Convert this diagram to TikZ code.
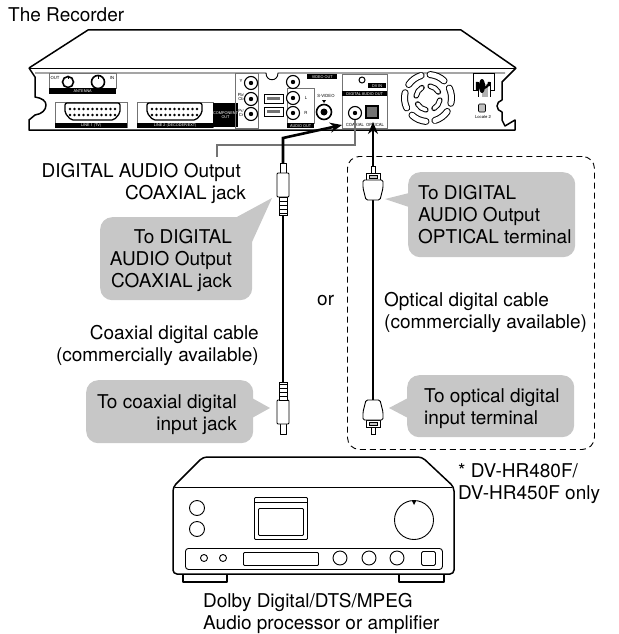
\documentclass[tikz,border=0pt]{standalone}
\usepackage{fontspec}
\setmainfont{TeX Gyre Heros}
\usetikzlibrary{arrows.meta,calc,positioning}
\definecolor{bubblegray}{gray}{0.78}
\definecolor{wiregray}{gray}{0.45}
\tikzstyle{txt}=[font=\fontsize{19}{22}\selectfont,inner sep=0pt]
\tikzstyle{bubble}=[fill=bubblegray,rounded corners=12pt,inner sep=0pt]
\tikzstyle{cable}=[line width=2.6pt]
\tikzstyle{cable arrow}=[cable,-{Stealth[length=12pt,width=10pt]}]
\tikzstyle{outline}=[line width=1.5pt,line join=round]
\tikzstyle{thin line}=[line width=0.9pt]
\tikzstyle{jack}=[circle,draw,fill=white,line width=1.1pt,minimum size=13pt,inner sep=0pt]
\tikzstyle{panelbox}=[draw=wiregray,line width=0.5pt,inner sep=0pt]
\tikzstyle{bar}=[fill=black,text=white,inner sep=0pt,font=\fontsize{3.8}{4}\selectfont]
\tikzstyle{tag}=[inner sep=0pt,font=\fontsize{4.2}{4.5}\selectfont]

\begin{document}
\begin{tikzpicture}[x=1pt,y=-1pt]
  \useasboundingbox (0,0) rectangle (618,634);

  \node[txt,anchor=base west] (title) at (8,22) {The Recorder};

  % recorder
  \draw[outline] (29,68) -- (88,30) -- (461,30) -- (516,68);
  \draw[thin line] (29,68) -- (516,68);
  \draw[outline] (29,68) -- (35,77) -- (35,97) .. controls (42,98) and (46,101) .. (46,105)
     .. controls (46,110) and (42,114) .. (35,115) -- (29,120) -- (29,130) -- (515,130) -- (515,120)
     -- (505,126) -- (502,120) -- (502,112) .. controls (499,111) and (497,109) .. (497,106)
     .. controls (497,103) and (499,101) .. (502,100) -- (502,82) -- (516,68);
  \draw[thin line] (35,73) -- (266,73) .. controls (266,82) and (278,82) .. (278,73) -- (505,73);

  \node[panelbox,minimum width=67,minimum height=15,anchor=north west] (antbox) at (49,73) {};
  \node[bar,minimum width=67,minimum height=6,anchor=north west] (antbar) at (49,88) {ANTENNA};
  \node[tag] (outtag) at (55,78) {OUT};
  \node[tag] (intag) at (112,78) {IN};
  \node[jack,minimum size=11pt,line width=1.6pt] (antout) at (68,82) {};
  \node[jack,line width=1.6pt] (antin) at (98,82) {};
  \draw[thin line] (antout) -- +(0,-3);
  \draw[thin line] (antin) -- +(0,-3);

  \node[panelbox,minimum width=72,minimum height=25,anchor=north west] (line1box) at (55,102) {};
  \node[panelbox,minimum width=76,minimum height=25,anchor=north west] (line2box) at (137,102) {};
  \node[bar,minimum width=72,minimum height=5,anchor=north west] (line1bar) at (55,123) {LINE 1 (TV)};
  \node[bar,minimum width=76,minimum height=5,anchor=north west] (line2bar) at (137,123) {LINE 2 (DECODER/EXT)};
  \foreach \sx in {65,147} {
    \fill[white] (\sx,103) rectangle +(55,17);
    \draw[line width=1.3pt,rounded corners=2pt] (\sx,103) -- ++(55,0) -- ++(0,10) -- ++(-6,7) -- ++(-43,0) -- ++(-6,-7) -- cycle;
    \foreach \i in {0,...,10} {
      \fill (\sx+5+4.5*\i,109) circle (1.3);
      \fill (\sx+5+4.5*\i,115) circle (1.3);
    }
  }
  \node[bar,minimum width=22,minimum height=24,align=center,anchor=north west] (compbar) at (213,103) {COMPONENT\\OUT};

  \node[panelbox,minimum width=23,minimum height=55,anchor=north west] (compbox) at (235,73) {};
  \foreach \n/\y in {jy/83,jb/99,jr/114} {
    \node[jack] (\n) at (251,\y) {};
    \fill (\n) circle (2.2);
  }
  \node[tag] (ytag) at (241,81) {Y};
  \node[tag,align=center] (pbtag) at (241,97) {Pb/\\Cb};
  \node[tag,align=center] (prtag) at (241,113) {Pr/\\Cr};

  \node[draw,line width=0.8pt,minimum width=19,minimum height=9,anchor=north west,inner sep=0pt] (sw1) at (264,94) {};
  \node[draw,line width=0.8pt,minimum width=19,minimum height=9,anchor=north west,inner sep=0pt] (sw2) at (264,107) {};
  \fill[wiregray] (267,97) rectangle (280,100);
  \fill[wiregray] (267,110) rectangle (280,113);

  \node[panelbox,line width=0.8pt,minimum width=27,minimum height=35,anchor=north west] (audiobox) at (287,88) {};
  \node[bar,minimum width=30,minimum height=5,anchor=north west] (videobar) at (307,74) {VIDEO OUT};
  \node[bar,minimum width=27,minimum height=5,anchor=north west] (audiobar) at (287,123) {AUDIO OUT};
  \foreach \n/\y in {jv/82,jl/98,ja/113} {
    \node[jack] (\n) at (293,\y) {};
    \fill (\n) circle (2.2);
  }
  \node[tag] (ltag) at (306,98) {L};
  \node[tag] (rtag) at (306,113) {R};
  \node[tag] (svtag) at (326,96) {S-VIDEO};
  \fill (322,100) -- (326,100) -- (324,103) -- cycle;
  \node[jack,minimum size=15pt,line width=1.6pt] (jsv) at (324,112) {};
  \fill (jsv) circle (3.5);

  \node[panelbox,minimum width=45,minimum height=54,anchor=north west] (digbox) at (342,74) {};
  \node[jack,minimum size=6pt,line width=1pt] (jdv) at (362,80) {};
  \node[bar,minimum width=18,minimum height=5,anchor=north west] (dvbar) at (368,83) {DV IN};
  \node[bar,minimum width=45,minimum height=5,anchor=north west] (digbar) at (342,91) {DIGITAL AUDIO OUT};
  \node[jack] (coaxjack) at (355,113) {};
  \fill (coaxjack) circle (2.2);
  \node[draw,fill=wiregray,line width=1.6pt,minimum size=12pt,inner sep=0pt] (optjack) at (372,112) {};
  \node[tag] (coaxtag) at (355,124.5) {COAXIAL};
  \node[tag] (opttag) at (375,124.5) {OPTICAL};

  % fan
  \foreach \a in {-25,35,95,155,215,275} {
    \draw[line width=7pt,line cap=round] ([shift={(\a:23.5)}]428,98) arc (\a:\a+38:23.5);
    \draw[line width=5pt,line cap=round,white] ([shift={(\a:23.5)}]428,98) arc (\a:\a+38:23.5);
  }
  \foreach \a in {10,100,190,280} {
    \draw[line width=5.5pt,line cap=round] ([shift={(\a:12)}]428,98) arc (\a:\a+50:12);
    \draw[line width=3.5pt,line cap=round,white] ([shift={(\a:12)}]428,98) arc (\a:\a+50:12);
  }

  % power cord
  \draw[thin line] (478,90) -- (473,90) -- (473,73) -- (494,73) -- (494,90) -- (490,90);
  \draw[line width=0.6pt] (478,82) -- (478,97) (490,82) -- (490,97);
  \fill[gray!60] (482,84) rectangle (488,97);
  \draw[line width=2.2pt] (477,90) -- (477,82) arc (180:0:6) -- (489,86);
  \fill (482,86) ellipse (3 and 7);
  \node[draw,fill=gray!50,rounded corners=1pt,line width=0.6pt,minimum width=7,minimum height=8,inner sep=0pt] (mark) at (482,108) {};
  \node[tag] (localetag) at (483,117) {Locale 2};

  % coaxial side
  \coordinate (coaxtop) at (283,215);
  \coordinate (coaxbend) at (283,138);
  \coordinate (coaxplug) at (283,165);
  \coordinate (coaxbottom) at (283,382);
  \coordinate (leaderend) at (217,157);
  \coordinate (leaderbend) at (217,145);
  \coordinate (leadercorner) at (355,145);

  \draw[wiregray,line width=1.1pt] (leaderend) -- (leaderbend) -- (leadercorner) -- (coaxjack);
  \draw[cable arrow] (coaxplug) -- (coaxbend) -- ($(coaxjack)+(-13,12)$);
  \draw[cable] (coaxtop) -- (coaxbottom);

  \foreach \oy/\sy in {197/1,400/-1} {
    \begin{scope}[shift={(283,\oy)},yscale=\sy]
      \draw[thin line,fill=white,line join=round] (-3,-24) -- (-3,-34) -- (3,-34) -- (3,-24);
      \draw[thin line,fill=white,rounded corners=1pt] (-6,0) rectangle (6,-24);
      \draw[thin line,fill=white] (-4,0) rectangle (4,18);
      \foreach \r in {4,8,12,16}
        \draw[line width=1pt] (-4,\r) -- (4,\r);
    \end{scope}
  }

  \node[bubble,minimum width=152,minimum height=83,anchor=north west] (coaxbub) at (100,217) {};
  \fill[bubblegray] (235,218) -- (272,198) -- (252,242) -- cycle;
  \node[bubble,minimum width=167,minimum height=63,anchor=north west] (coaxinbub) at (86,380) {};
  \fill[bubblegray] (252,398) -- (270,408) -- (252,418) -- cycle;

  % optical side
  \node[draw,dashed,dash pattern=on 6pt off 4pt,line width=0.9pt,rounded corners=12pt,minimum width=247,minimum height=293,inner sep=0pt,anchor=north west] (optbox) at (347,156) {};
  \coordinate (opttop) at (373,200);
  \coordinate (optbottom) at (373,400);
  \coordinate (optarrow) at (373,166);

  \draw[cable arrow] (optarrow) -- (373,122);
  \draw[cable] (opttop) -- (optbottom);

  \foreach \oy/\sy in {200/1,400/-1} {
    \begin{scope}[shift={(373,\oy)},yscale=\sy]
      \draw[thin line,fill=white] (-2,-27) rectangle (2,-34);
      \draw[thin line,fill=white] (-7,-20) rectangle (7,-27);
      \draw[line width=0.7pt,fill=bubblegray] (-4,-22) rectangle (4,-25);
      \draw[thin line,fill=white,rounded corners=1.5pt] (-10,-20) -- (10,-20) -- (10,-12) -- (7,0) -- (-7,0) -- (-10,-12) -- cycle;
    \end{scope}
  }

  \node[bubble,minimum width=167,minimum height=85,anchor=north west] (optbub) at (408,172) {};
  \fill[bubblegray] (409,193) -- (385,199) -- (409,207) -- cycle;
  \node[bubble,minimum width=167,minimum height=62,anchor=north west] (optinbub) at (407,375) {};
  \fill[bubblegray] (408,398) -- (389,408) -- (408,418) -- cycle;

  % amplifier
  \draw[outline,fill=white] (183,570) -- (183,582) -- (227,582) -- (227,570);
  \draw[outline,fill=white] (399,570) -- (399,582) -- (444,582) -- (444,570);
  \draw[outline,fill=white,rounded corners=4pt] (173,487) -- (203,457) -- (422,457) -- (454,487) -- (454,574) -- (173,574) -- cycle;
  \draw[thin line] (175,487) -- (452,487);
  \node[circle,draw,thin line,minimum size=15pt,inner sep=0pt] (knob1) at (197,508) {};
  \node[circle,draw,thin line,minimum size=15pt,inner sep=0pt] (knob2) at (197,529) {};
  \node[draw,thin line,rounded corners=1pt,minimum width=53,minimum height=42,inner sep=0pt,anchor=north west] (screen) at (254,497) {};
  \draw[thin line] (254,502) -- (307,502);
  \node[draw,thin line,rounded corners=1pt,minimum width=45,minimum height=27,inner sep=0pt,anchor=north west] (screenin) at (258,508) {};
  \node[circle,draw,thin line,minimum size=39pt,inner sep=0pt] (dial) at (414,520) {};
  \fill (412,501) -- (416,501) -- (414,505) -- cycle;
  \node[draw,thin line,rounded corners=3pt,minimum width=257,minimum height=21,inner sep=0pt,anchor=north west] (strip) at (185,548) {};
  \node[circle,draw,thin line,minimum size=7pt,inner sep=0pt] (sm1) at (204,558) {};
  \node[circle,draw,thin line,minimum size=7pt,inner sep=0pt] (sm2) at (223,558) {};
  \node[draw,thin line,rounded corners=1pt,minimum width=75,minimum height=13,inner sep=0pt,anchor=north west] (slot) at (243,552) {};
  \foreach \n/\x in {b1/340,b2/369,b3/397}
    \node[circle,draw,thin line,minimum size=14pt,inner sep=0pt] (\n) at (\x,558) {};
  \node[draw,thin line,rounded corners=1.5pt,minimum size=14pt,inner sep=0pt] (sqbtn) at (428.5,558.5) {};

  % labels
  \node[txt,align=right,anchor=base east] (diglabel) at (246,199) {DIGITAL AUDIO Output\hspace*{5pt}\\COAXIAL jack};
  \node[txt,align=right,anchor=base east] (coaxbubtxt) at (232,287) {To DIGITAL\\AUDIO Output\\COAXIAL jack};
  \node[txt,align=right,anchor=base east] (coaxcable) at (259,361) {Coaxial digital cable\\(commercially available)};
  \node[txt,align=right,anchor=base east] (coaxintxt) at (237,430) {To coaxial digital\\input jack};
  \node[txt,anchor=base west] (ortxt) at (317,305) {or};
  \node[txt,align=left,anchor=base west] (optbubtxt) at (418,243) {To DIGITAL\\AUDIO Output\\OPTICAL terminal};
  \node[txt,align=left,anchor=base west] (optcable) at (384,328) {Optical digital cable\\(commercially available)};
  \node[txt,align=left,anchor=base west] (optintxt) at (424,424) {To optical digital\\input terminal};
  \node[txt,align=left,anchor=base west] (onlytxt) at (458,499) {* DV-HR480F/\\DV-HR450F only};
  \node[txt,align=left,anchor=base west] (amplabel) at (203,629) {Dolby Digital/DTS/MPEG\\Audio processor or amplifier};
\end{tikzpicture}
\end{document}
